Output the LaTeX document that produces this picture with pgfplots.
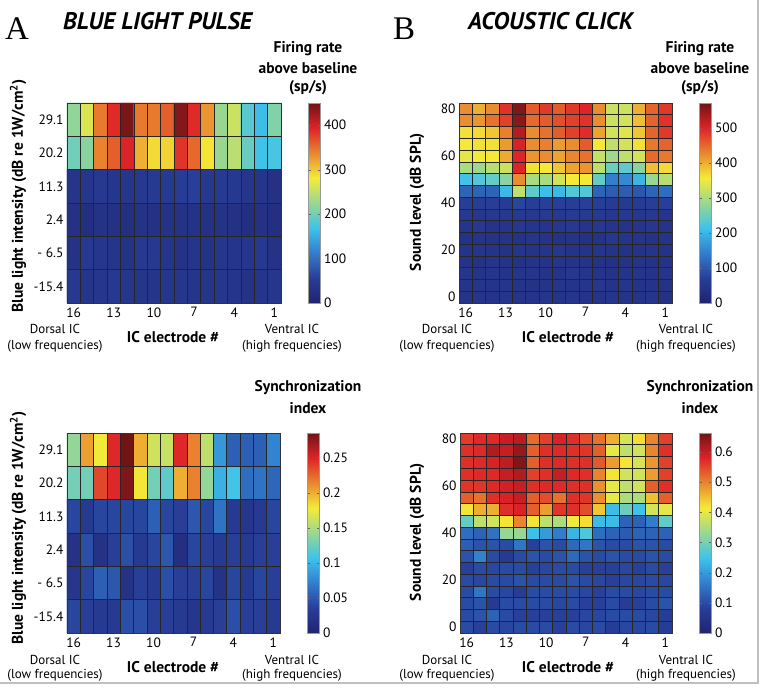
\documentclass[border=0pt]{standalone}
\usepackage{fontspec}
\setmainfont{PT Sans}
\newfontfamily\seriffont{Liberation Serif}
\usepackage{pgfplots}
\pgfplotsset{compat=1.18}
\newcommand\tfont{\fontsize{13.5}{15}\selectfont}
\newcommand\lfont{\fontsize{15.5}{18}\bfseries\selectfont}
\newcommand\nfont{\fontsize{13}{15}\selectfont}
\pgfplotsset{
  /pgf/number format/assume math mode=true,
  colormap={mjet}{rgb255(0cm)=(32,36,112); rgb255(1cm)=(40,62,152); rgb255(2cm)=(50,125,205); rgb255(3cm)=(62,195,235); rgb255(5cm)=(245,235,55); rgb255(7cm)=(222,35,40); rgb255(8cm)=(112,20,22)},
  hm/.style={
    scale only axis, width=213pt, height=200pt,
    colormap name=mjet,
    x dir=reverse, xmin=0.5, xmax=16.5, xtick={16,13,10,7,4,1},
    minor xtick={0.5,1.5,...,16.5},
    major tick length=0pt, minor tick length=0pt,
    xminorgrids, yminorgrids,
    minor grid style={black!85, line width=0.6pt},
    axis on top,
    axis line style={black!80, line width=0.6pt},
    tick label style={font=\tfont},
    xticklabel style={yshift=-1pt},
    colorbar,
    colorbar style={
      at={(parent axis.north east)}, anchor=north west, xshift=19pt,
      scale only axis, width=12pt, height=200pt,
      axis line style={draw=black!40},
      major tick length=2.5pt, tick style={black!60},
      yticklabel style={font=\tfont},
    },
  },
  hmA/.style={hm, ymin=0.5, ymax=6.5, ytick={1,...,6},
    yticklabels={-15.4,- 6.5,2.4,11.3,20.2,29.1},
    minor ytick={0.5,1.5,...,6.5}},
  hmB/.style={hm, ymin=-2.5, ymax=82.5, ytick={0,20,...,80},
    minor ytick={-2.5,2.5,...,82.5}},
}
\begin{document}
\begin{tikzpicture}
\useasboundingbox (0pt,0pt) rectangle (764pt,689pt);
\fill[white] (0pt,0pt) rectangle (764pt,689pt);
% ---------- A top: firing rate, blue light ----------
\begin{axis}[hmA, at={(67pt,386pt)}, anchor=south west, width=214pt,
  point meta min=0, point meta max=450,
  colorbar style={ytick={0,100,...,400}}]
\addplot[matrix plot*, mesh/cols=16, point meta=explicit] table[row sep=\\, meta=c] {
x y c\\
16 6 220\\15 6 265\\14 6 345\\13 6 390\\12 6 445\\11 6 345\\10 6 345\\9 6 360\\8 6 440\\7 6 390\\6 6 330\\5 6 225\\4 6 255\\3 6 185\\2 6 165\\1 6 210\\
16 5 200\\15 5 215\\14 5 340\\13 5 360\\12 5 395\\11 5 315\\10 5 290\\9 5 295\\8 5 385\\7 5 355\\6 5 285\\5 5 225\\4 5 245\\3 5 195\\2 5 170\\1 5 175\\
16 4 36\\15 4 40\\14 4 44\\13 4 40\\12 4 40\\11 4 44\\10 4 48\\9 4 48\\8 4 52\\7 4 56\\6 4 44\\5 4 48\\4 4 44\\3 4 40\\2 4 36\\1 4 28\\
16 3 28\\15 3 24\\14 3 32\\13 3 28\\12 3 24\\11 3 32\\10 3 28\\9 3 32\\8 3 32\\7 3 32\\6 3 28\\5 3 32\\4 3 28\\3 3 24\\2 3 28\\1 3 24\\
16 2 32\\15 2 44\\14 2 40\\13 2 36\\12 2 32\\11 2 44\\10 2 44\\9 2 36\\8 2 32\\7 2 36\\6 2 32\\5 2 40\\4 2 36\\3 2 40\\2 2 44\\1 2 32\\
16 1 44\\15 1 36\\14 1 40\\13 1 44\\12 1 40\\11 1 36\\10 1 36\\9 1 40\\8 1 40\\7 1 36\\6 1 36\\5 1 40\\4 1 36\\3 1 32\\2 1 36\\1 1 40\\
};
\end{axis}
% ---------- B top: firing rate, click ----------
\begin{axis}[hmB, at={(459pt,386pt)}, anchor=south west,
  point meta min=0, point meta max=572,
  colorbar style={ytick={0,100,...,500}}]
\addplot[matrix plot*, mesh/cols=16, point meta=explicit] table[row sep=\\, meta=c] {
x y c\\
16 80 425\\15 80 400\\14 80 425\\13 80 490\\12 80 560\\11 80 460\\10 80 485\\9 80 460\\8 80 485\\7 80 500\\6 80 425\\5 80 325\\4 80 325\\3 80 400\\2 80 455\\1 80 485\\
16 75 425\\15 75 420\\14 75 445\\13 75 480\\12 75 555\\11 75 450\\10 75 460\\9 75 470\\8 75 480\\7 75 490\\6 75 425\\5 75 325\\4 75 330\\3 75 390\\2 75 455\\1 75 490\\
16 70 365\\15 70 370\\14 70 385\\13 70 435\\12 70 530\\11 70 425\\10 70 445\\9 70 460\\8 70 480\\7 70 495\\6 70 410\\5 70 330\\4 70 340\\3 70 385\\2 70 455\\1 70 485\\
16 65 360\\15 65 365\\14 65 365\\13 65 415\\12 65 505\\11 65 425\\10 65 435\\9 65 415\\8 65 425\\7 65 460\\6 65 360\\5 65 315\\4 65 330\\3 65 365\\2 65 440\\1 65 455\\
16 60 345\\15 60 355\\14 60 360\\13 60 405\\12 60 500\\11 60 420\\10 60 425\\9 60 410\\8 60 430\\7 60 445\\6 60 320\\5 60 290\\4 60 315\\3 60 330\\2 60 450\\1 60 440\\
16 55 300\\15 55 290\\14 55 310\\13 55 325\\12 55 500\\11 55 365\\10 55 360\\9 55 385\\8 55 410\\7 55 420\\6 55 315\\5 55 250\\4 55 240\\3 55 275\\2 55 390\\1 55 370\\
16 50 215\\15 50 230\\14 50 245\\13 50 275\\12 50 425\\11 50 300\\10 50 300\\9 50 330\\8 50 360\\7 50 360\\6 50 245\\5 50 145\\4 50 155\\3 50 200\\2 50 285\\1 50 310\\
16 45 115\\15 45 115\\14 45 115\\13 45 205\\12 45 315\\11 45 240\\10 45 210\\9 45 205\\8 45 230\\7 45 230\\6 45 115\\5 45 105\\4 45 105\\3 45 100\\2 45 115\\1 45 125\\
16 40 68\\15 40 68\\14 40 68\\13 40 64\\12 40 80\\11 40 68\\10 40 72\\9 40 72\\8 40 68\\7 40 72\\6 40 68\\5 40 64\\4 40 60\\3 40 64\\2 40 68\\1 40 72\\
16 35 56\\15 35 52\\14 35 56\\13 35 56\\12 35 60\\11 35 56\\10 35 60\\9 35 56\\8 35 64\\7 35 60\\6 35 60\\5 35 52\\4 35 56\\3 35 52\\2 35 56\\1 35 48\\
16 30 48\\15 30 56\\14 30 44\\13 30 48\\12 30 52\\11 30 48\\10 30 48\\9 30 52\\8 30 56\\7 30 48\\6 30 52\\5 30 48\\4 30 44\\3 30 48\\2 30 52\\1 30 44\\
16 25 40\\15 25 44\\14 25 40\\13 25 44\\12 25 40\\11 25 48\\10 25 44\\9 25 40\\8 25 44\\7 25 36\\6 25 40\\5 25 52\\4 25 48\\3 25 44\\2 25 40\\1 25 44\\
16 20 44\\15 20 48\\14 20 44\\13 20 40\\12 20 48\\11 20 44\\10 20 48\\9 20 52\\8 20 44\\7 20 44\\6 20 48\\5 20 44\\4 20 40\\3 20 44\\2 20 48\\1 20 40\\
16 15 44\\15 15 40\\14 15 48\\13 15 44\\12 15 40\\11 15 44\\10 15 44\\9 15 48\\8 15 44\\7 15 44\\6 15 40\\5 15 36\\4 15 40\\3 15 44\\2 15 40\\1 15 40\\
16 10 48\\15 10 44\\14 10 48\\13 10 44\\12 10 48\\11 10 48\\10 10 44\\9 10 44\\8 10 52\\7 10 48\\6 10 44\\5 10 40\\4 10 44\\3 10 48\\2 10 44\\1 10 48\\
16 5 44\\15 5 48\\14 5 44\\13 5 48\\12 5 44\\11 5 40\\10 5 44\\9 5 48\\8 5 44\\7 5 48\\6 5 52\\5 5 44\\4 5 48\\3 5 44\\2 5 44\\1 5 40\\
16 0 44\\15 0 48\\14 0 44\\13 0 48\\12 0 44\\11 0 44\\10 0 48\\9 0 44\\8 0 48\\7 0 44\\6 0 44\\5 0 48\\4 0 44\\3 0 44\\2 0 48\\1 0 36\\
};
\end{axis}
% ---------- A bottom: sync, blue light ----------
\begin{axis}[hmA, at={(67pt,56pt)}, anchor=south west,
  point meta min=0, point meta max=0.285,
  colorbar style={ytick={0,0.05,0.1,0.15,0.2,0.25},
    yticklabels={0,0.05,0.1,0.15,0.2,0.25}}]
\addplot[matrix plot*, mesh/cols=16, point meta=explicit] table[row sep=\\, meta=c] {
x y c\\
16 6 0.14\\15 6 0.205\\14 6 0.177\\13 6 0.248\\12 6 0.285\\11 6 0.2\\10 6 0.163\\9 6 0.16\\8 6 0.248\\7 6 0.216\\6 6 0.157\\5 6 0.085\\4 6 0.055\\3 6 0.055\\2 6 0.055\\1 6 0.075\\
16 5 0.128\\15 5 0.128\\14 5 0.237\\13 5 0.248\\12 5 0.28\\11 5 0.18\\10 5 0.128\\9 5 0.12\\8 5 0.2\\7 5 0.216\\6 5 0.14\\5 5 0.097\\4 5 0.108\\3 5 0.062\\2 5 0.065\\1 5 0.058\\
16 4 0.04\\15 4 0.03\\14 4 0.04\\13 4 0.04\\12 4 0.04\\11 4 0.04\\10 4 0.055\\9 4 0.04\\8 4 0.035\\7 4 0.05\\6 4 0.04\\5 4 0.065\\4 4 0.03\\3 4 0.025\\2 4 0.03\\1 4 0.04\\
16 3 0.02\\15 3 0.045\\14 3 0.02\\13 3 0.035\\12 3 0.045\\11 3 0.03\\10 3 0.04\\9 3 0.05\\8 3 0.015\\7 3 0.04\\6 3 0.035\\5 3 0.03\\4 3 0.035\\3 3 0.03\\2 3 0.035\\1 3 0.035\\
16 2 0.025\\15 2 0.04\\14 2 0.055\\13 2 0.05\\12 2 0.02\\11 2 0.035\\10 2 0.03\\9 2 0.045\\8 2 0.035\\7 2 0.035\\6 2 0.04\\5 2 0.02\\4 2 0.04\\3 2 0.03\\2 2 0.04\\1 2 0.035\\
16 1 0.04\\15 1 0.035\\14 1 0.03\\13 1 0.03\\12 1 0.045\\11 1 0.045\\10 1 0.035\\9 1 0.035\\8 1 0.03\\7 1 0.025\\6 1 0.03\\5 1 0.035\\4 1 0.045\\3 1 0.035\\2 1 0.035\\1 1 0.03\\
};
\end{axis}
% ---------- B bottom: sync, click ----------
\begin{axis}[hmB, at={(460pt,56pt)}, anchor=south west, width=212pt,
  point meta min=0, point meta max=0.663,
  colorbar style={ytick={0,0.1,...,0.6},
    yticklabels={0,0.1,0.2,0.3,0.4,0.5,0.6}}]
\addplot[matrix plot*, mesh/cols=16, point meta=explicit] table[row sep=\\, meta=c] {
x y c\\
16 80 0.56\\15 80 0.575\\14 80 0.575\\13 80 0.6\\12 80 0.61\\11 80 0.52\\10 80 0.555\\9 80 0.585\\8 80 0.57\\7 80 0.545\\6 80 0.515\\5 80 0.465\\4 80 0.385\\3 80 0.425\\2 80 0.5\\1 80 0.555\\
16 75 0.57\\15 75 0.575\\14 75 0.615\\13 75 0.6\\12 75 0.635\\11 75 0.53\\10 75 0.57\\9 75 0.575\\8 75 0.57\\7 75 0.565\\6 75 0.53\\5 75 0.4\\4 75 0.365\\3 75 0.38\\2 75 0.5\\1 75 0.57\\
16 70 0.57\\15 70 0.575\\14 70 0.585\\13 70 0.605\\12 70 0.65\\11 70 0.53\\10 70 0.57\\9 70 0.575\\8 70 0.57\\7 70 0.57\\6 70 0.535\\5 70 0.48\\4 70 0.42\\3 70 0.385\\2 70 0.485\\1 70 0.555\\
16 65 0.57\\15 65 0.575\\14 65 0.575\\13 65 0.6\\12 65 0.615\\11 65 0.555\\10 65 0.57\\9 65 0.6\\8 65 0.575\\7 65 0.57\\6 65 0.5\\5 65 0.42\\4 65 0.38\\3 65 0.38\\2 65 0.48\\1 65 0.555\\
16 60 0.565\\15 60 0.565\\14 60 0.575\\13 60 0.59\\12 60 0.6\\11 60 0.57\\10 60 0.575\\9 60 0.575\\8 60 0.57\\7 60 0.57\\6 60 0.49\\5 60 0.4\\4 60 0.365\\3 60 0.38\\2 60 0.53\\1 60 0.57\\
16 55 0.53\\15 55 0.515\\14 55 0.57\\13 55 0.585\\12 55 0.6\\11 55 0.53\\10 55 0.545\\9 55 0.515\\8 55 0.57\\7 55 0.565\\6 55 0.49\\5 55 0.4\\4 55 0.35\\3 55 0.35\\2 55 0.45\\1 55 0.53\\
16 50 0.42\\15 50 0.465\\14 50 0.465\\13 50 0.57\\12 50 0.585\\11 50 0.53\\10 50 0.48\\9 50 0.565\\8 50 0.57\\7 50 0.545\\6 50 0.445\\5 50 0.24\\4 50 0.29\\3 50 0.25\\2 50 0.385\\1 50 0.4\\
16 45 0.285\\15 45 0.365\\14 45 0.38\\13 45 0.42\\12 45 0.5\\11 45 0.42\\10 45 0.365\\9 45 0.35\\8 45 0.41\\7 45 0.425\\6 45 0.24\\5 45 0.24\\4 45 0.13\\3 45 0.13\\2 45 0.165\\1 45 0.28\\
16 40 0.145\\15 40 0.13\\14 40 0.15\\13 40 0.33\\12 40 0.33\\11 40 0.245\\10 40 0.2\\9 40 0.165\\8 40 0.23\\7 40 0.265\\6 40 0.145\\5 40 0.13\\4 40 0.12\\3 40 0.13\\2 40 0.13\\1 40 0.13\\
16 35 0.125\\15 35 0.11\\14 35 0.11\\13 35 0.1\\12 35 0.155\\11 35 0.085\\10 35 0.11\\9 35 0.1\\8 35 0.14\\7 35 0.155\\6 35 0.11\\5 35 0.1\\4 35 0.1\\3 35 0.11\\2 35 0.11\\1 35 0.1\\
16 30 0.11\\15 30 0.17\\14 30 0.1\\13 30 0.07\\12 30 0.1\\11 30 0.11\\10 30 0.1\\9 30 0.11\\8 30 0.14\\7 30 0.11\\6 30 0.1\\5 30 0.11\\4 30 0.1\\3 30 0.1\\2 30 0.11\\1 30 0.1\\
16 25 0.085\\15 25 0.1\\14 25 0.095\\13 25 0.1\\12 25 0.1\\11 25 0.085\\10 25 0.095\\9 25 0.1\\8 25 0.1\\7 25 0.085\\6 25 0.085\\5 25 0.085\\4 25 0.095\\3 25 0.085\\2 25 0.1\\1 25 0.085\\
16 20 0.1\\15 20 0.095\\14 20 0.1\\13 20 0.1\\12 20 0.11\\11 20 0.1\\10 20 0.1\\9 20 0.1\\8 20 0.11\\7 20 0.1\\6 20 0.095\\5 20 0.085\\4 20 0.095\\3 20 0.095\\2 20 0.1\\1 20 0.095\\
16 15 0.1\\15 15 0.155\\14 15 0.1\\13 15 0.095\\12 15 0.075\\11 15 0.1\\10 15 0.1\\9 15 0.1\\8 15 0.1\\7 15 0.095\\6 15 0.085\\5 15 0.1\\4 15 0.1\\3 15 0.095\\2 15 0.1\\1 15 0.1\\
16 10 0.1\\15 10 0.11\\14 10 0.07\\13 10 0.1\\12 10 0.1\\11 10 0.1\\10 10 0.1\\9 10 0.095\\8 10 0.1\\7 10 0.085\\6 10 0.085\\5 10 0.1\\4 10 0.075\\3 10 0.085\\2 10 0.1\\1 10 0.11\\
16 5 0.1\\15 5 0.11\\14 5 0.13\\13 5 0.1\\12 5 0.085\\11 5 0.085\\10 5 0.085\\9 5 0.085\\8 5 0.085\\7 5 0.095\\6 5 0.095\\5 5 0.1\\4 5 0.1\\3 5 0.1\\2 5 0.095\\1 5 0.075\\
16 0 0.1\\15 0 0.085\\14 0 0.1\\13 0 0.095\\12 0 0.1\\11 0 0.1\\10 0 0.1\\9 0 0.085\\8 0 0.1\\7 0 0.095\\6 0 0.1\\5 0 0.075\\4 0 0.095\\3 0 0.095\\2 0 0.1\\1 0 0.075\\
};
\end{axis}
% ---------- texts ----------
\node[anchor=base west, inner sep=0pt, font=\seriffont\fontsize{33}{33}\selectfont] at (5pt,649pt) {A};
\node[anchor=base west, inner sep=0pt, font=\seriffont\fontsize{33}{33}\selectfont] at (393pt,649pt) {B};
\node[anchor=base west, inner sep=0pt, font=\fontsize{24}{24}\bfseries\itshape\selectfont] at (63pt,659pt) {BLUE LIGHT PULSE};
\node[anchor=base west, inner sep=0pt, font=\fontsize{24}{24}\bfseries\itshape\selectfont] at (468pt,659pt) {ACOUSTIC CLICK};
% colorbar titles
\foreach \cx in {308,700}{
  \node[font=\lfont] at (\cx pt,640pt) {Firing rate};
  \node[font=\lfont] at (\cx pt,621pt) {above baseline};
  \node[font=\lfont] at (\cx pt,601pt) {(sp/s)};
  \node[font=\lfont] at (\cx pt,301pt) {Synchronization};
  \node[font=\lfont] at (\cx pt,281pt) {index};
}
% y labels
\node[font=\lfont, rotate=90] at (18pt,493pt) {Blue light intensity (dB re 1W/cm\textsuperscript{2})};
\node[font=\lfont, rotate=90] at (18pt,161pt) {Blue light intensity (dB re 1W/cm\textsuperscript{2})};
\node[font=\lfont, rotate=90] at (417pt,487pt) {Sound level (dB SPL)};
\node[font=\lfont, rotate=90] at (417pt,157pt) {Sound level (dB SPL)};
% x labels
\foreach \dx/\ex/\vx in {55/173/292, 447/568/686}{
  \node[font=\nfont] at (\dx pt,360pt) {Dorsal IC};
  \node[font=\nfont] at (\dx pt,343pt) {(low frequencies)};
  \node[font=\lfont] at (\ex pt,352pt) {IC electrode \#};
  \node[font=\nfont] at (\vx pt,360pt) {Ventral IC};
  \node[font=\nfont] at (\vx pt,343pt) {(high frequencies)};
  \node[font=\nfont] at (\dx pt,29pt) {Dorsal IC};
  \node[font=\nfont] at (\dx pt,14pt) {(low frequencies)};
  \node[font=\lfont] at (\ex pt,22pt) {IC electrode \#};
  \node[font=\nfont] at (\vx pt,29pt) {Ventral IC};
  \node[font=\nfont] at (\vx pt,14pt) {(high frequencies)};
}
\draw[black!25, line width=1.2pt] (758pt,689pt) -- (758pt,6pt) -- (0pt,6pt);
\end{tikzpicture}
\end{document}
